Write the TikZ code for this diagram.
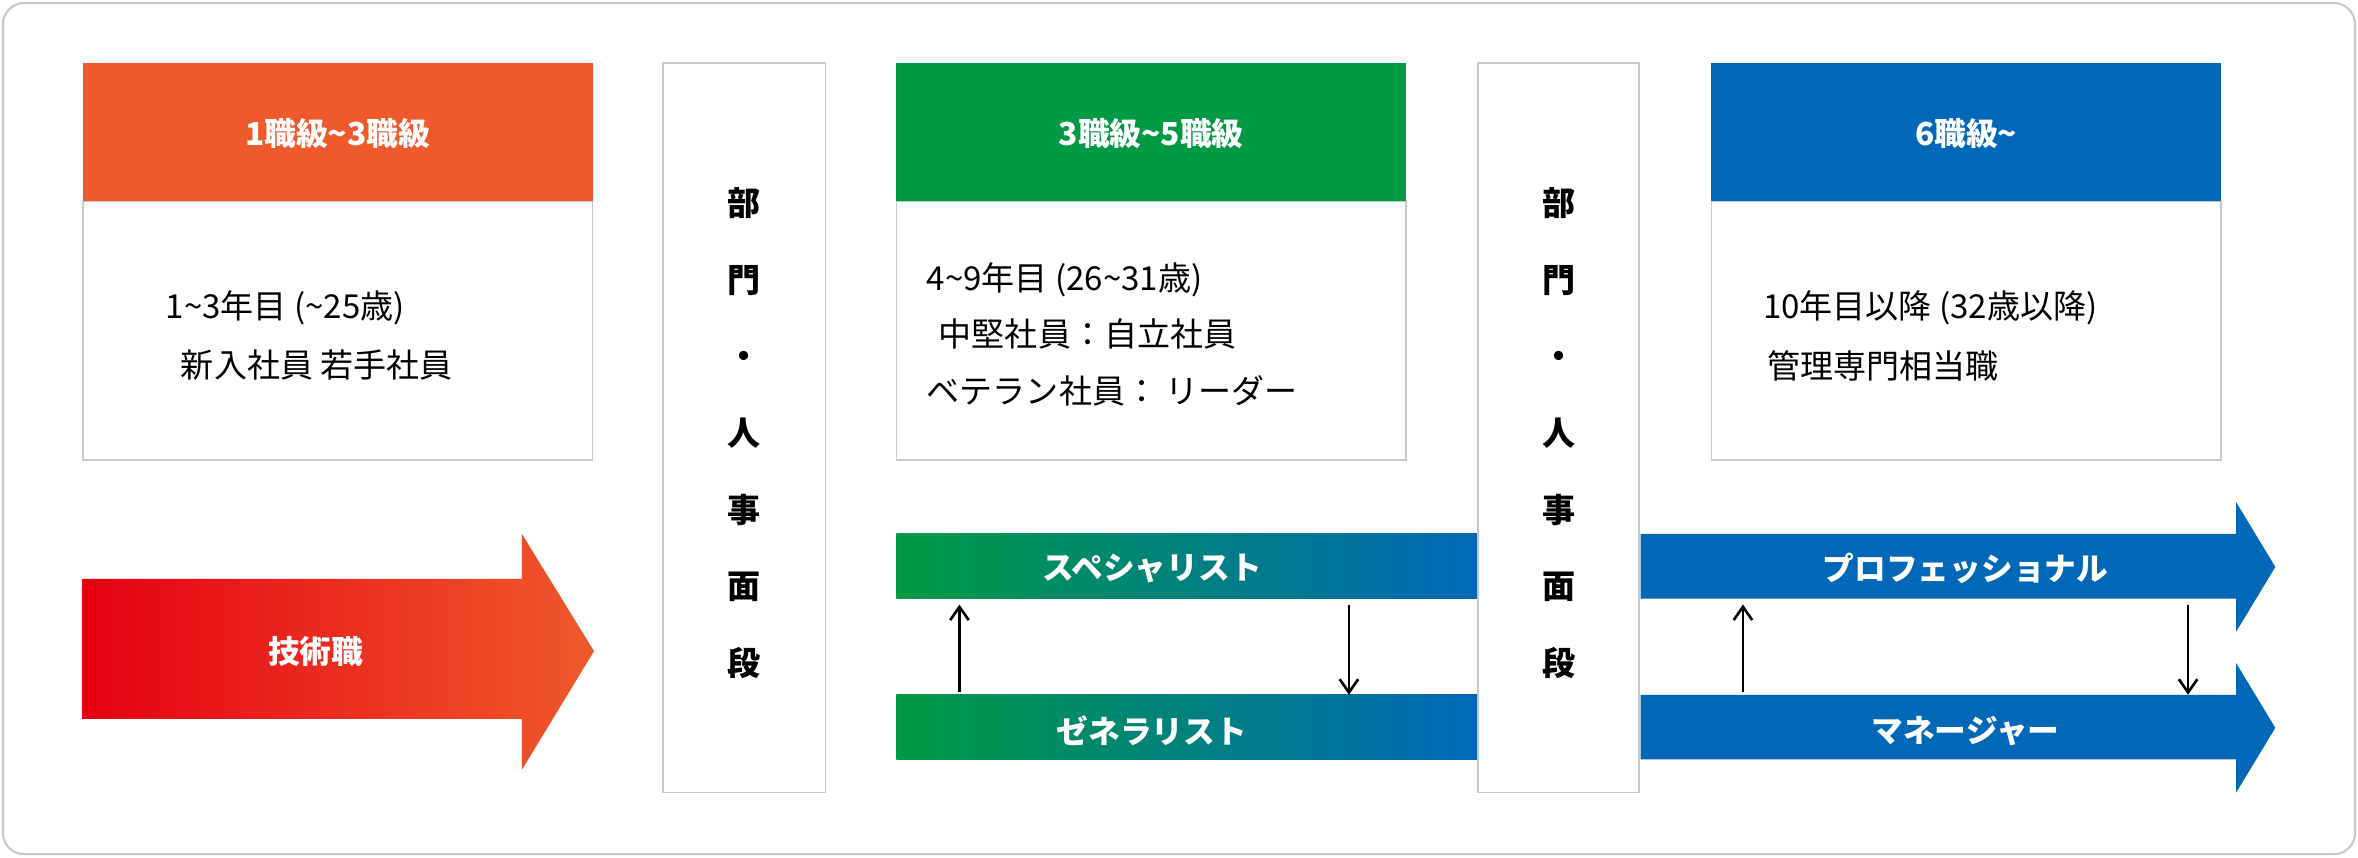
\documentclass[tikz,border=0pt]{standalone}
\usetikzlibrary{arrows.meta}
\usepackage{fontspec}
\setmainfont{Noto Sans CJK JP}
\definecolor{cor}{HTML}{EE5A2C}
\definecolor{cred}{HTML}{E60012}
\definecolor{cgr}{HTML}{009A44}
\definecolor{cbl}{HTML}{0068B7}
\definecolor{cgy}{HTML}{C8C8C8}
\begin{document}
\begin{tikzpicture}[x=0.02cm,y=-0.02cm,
  body/.style={draw=cgy,line width=0.6pt,fill=white},
  hdr/.style={font=\bfseries\fontsize{12}{14}\selectfont,text=white},
  txt/.style={font=\fontsize{12.5}{15}\selectfont,anchor=west,inner sep=0},
  bar/.style={font=\bfseries\fontsize{12}{14}\selectfont,text=white},
  vt/.style={font=\bfseries\fontsize{12.5}{15}\selectfont,align=center},
  conn/.style={-{Straight Barb[length=5pt,width=7pt]},line width=1pt}]
\useasboundingbox (0,0) rectangle (1568,570);
\draw[cgy,line width=0.8pt,rounded corners=8pt,fill=white] (2,2) rectangle (1566,568);
% box 1
\fill[cor] (55,42) rectangle (394,134);
\draw[body] (55,134) rectangle (394,306);
\node[hdr] (h1) at (224.5,89) {1職級\textasciitilde3職級};
\node[txt] (t11) at (110,205) {1\textasciitilde3年目 (\textasciitilde25歳)};
\node[txt] (t12) at (120,243) {新入社員 若手社員};
% vertical 1
\draw[body] (441,42) rectangle (549,527);
\node[vt] (v1) at (495,288) {部\\[14pt]門\\[14pt]・\\[14pt]人\\[14pt]事\\[14pt]面\\[14pt]段};
% box 2
\fill[cgr] (596,42) rectangle (935,134);
\draw[body] (596,134) rectangle (935,306);
\node[hdr] (h2) at (765.5,89) {3職級\textasciitilde5職級};
\node[txt] (t21) at (616,186) {4\textasciitilde9年目 (26\textasciitilde31歳)};
\node[txt] (t22) at (624,222) {中堅社員：自立社員};
\node[txt] (t23) at (616,260) {ベテラン社員： リーダー};
% vertical 2
\draw[body] (983,42) rectangle (1090,527);
\node[vt] (v2) at (1036.5,288) {部\\[14pt]門\\[14pt]・\\[14pt]人\\[14pt]事\\[14pt]面\\[14pt]段};
% box 3
\fill[cbl] (1138,42) rectangle (1477,134);
\draw[body] (1138,134) rectangle (1477,306);
\node[hdr] (h3) at (1307.5,89) {6職級\textasciitilde};
\node[txt] (t31) at (1172,205) {10年目以降 (32歳以降)};
\node[txt] (t32) at (1175,243) {管理専門相当職};
% big arrow
\shade[left color=cred,right color=cor] (55,385) -- (347,385) -- (347,355) -- (395,433) -- (347,512) -- (347,478) -- (55,478) -- cycle;
\node[bar] (g) at (210,433) {技術職};
% spec / gen bars
\shade[left color=cgr,right color=cbl] (596,355) rectangle (982,398);
\node[bar] (sp) at (766,378) {スペシャリスト};
\shade[left color=cgr,right color=cbl] (596,462) rectangle (982,505);
\node[bar] (ge) at (766,486) {ゼネラリスト};
\coordinate (a1) at (638,460); \coordinate (a2) at (638,402);
\coordinate (b1) at (897,402); \coordinate (b2) at (897,462);
\draw[conn] (a1) -- (a2);
\draw[conn] (b1) -- (b2);
% right arrows
\fill[cbl] (1091,355) -- (1487,355) -- (1487,334) -- (1513,377) -- (1487,420) -- (1487,398) -- (1091,398) -- cycle;
\node[bar] (pr) at (1307,378) {プロフェッショナル};
\fill[cbl] (1091,462) -- (1487,462) -- (1487,441) -- (1513,484) -- (1487,527) -- (1487,505) -- (1091,505) -- cycle;
\node[bar] (mg) at (1307,486) {マネージャー};
\coordinate (c1) at (1159,460); \coordinate (c2) at (1159,402);
\coordinate (d1) at (1455,402); \coordinate (d2) at (1455,462);
\draw[conn] (c1) -- (c2);
\draw[conn] (d1) -- (d2);
\end{tikzpicture}
\end{document}
